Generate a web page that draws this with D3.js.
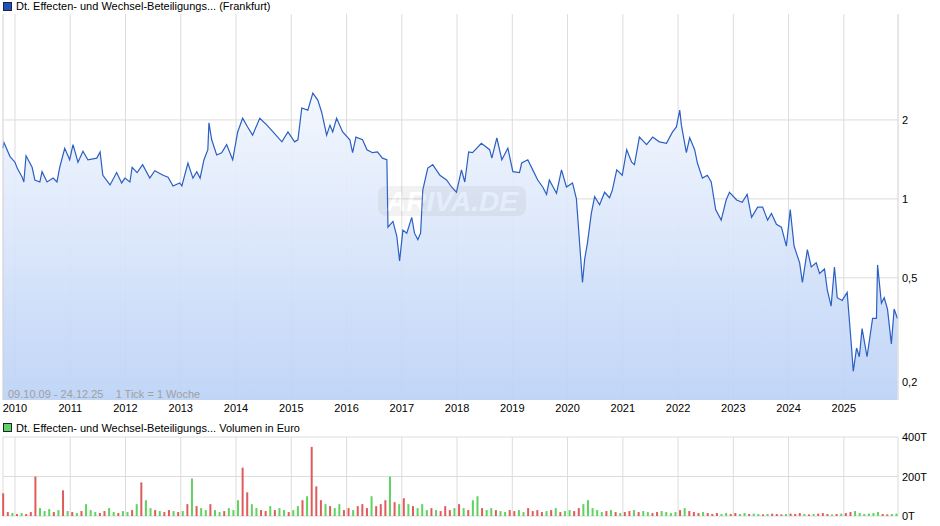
<!DOCTYPE html>
<html>
<head>
<meta charset="utf-8">
<script src="https://cdn.jsdelivr.net/npm/d3@7"></script>
<style>
  body { margin: 0; background: #fff; }
  svg { font-family: "Liberation Sans", Arial, sans-serif; }
</style>
</head>
<body>
<div class="main"></div>
<script>
const width = 940;
const height = 526;

// Kurs (Datum als Dezimaljahr, Preis in Euro)
const priceDates = [2009.78,2009.80,2009.91,2010.00,2010.04,2010.13,2010.16,2010.20,2010.31,2010.36,2010.45,2010.49,2010.58,2010.69,2010.76,2010.81,2010.90,2010.99,2011.05,2011.14,2011.23,2011.32,2011.48,2011.54,2011.59,2011.72,2011.84,2011.93,2011.99,2012.08,2012.12,2012.21,2012.31,2012.44,2012.53,2012.68,2012.77,2012.86,2012.98,2013.02,2013.13,2013.22,2013.29,2013.35,2013.42,2013.49,2013.51,2013.56,2013.65,2013.74,2013.83,2013.94,2014.03,2014.12,2014.21,2014.30,2014.43,2014.56,2014.67,2014.83,2014.94,2015.06,2015.12,2015.19,2015.30,2015.39,2015.48,2015.55,2015.64,2015.70,2015.75,2015.82,2015.93,2016.06,2016.11,2016.17,2016.29,2016.37,2016.47,2016.56,2016.65,2016.73,2016.75,2016.84,2016.91,2016.96,2017.02,2017.09,2017.18,2017.23,2017.29,2017.34,2017.38,2017.47,2017.56,2017.69,2017.81,2017.90,2017.99,2018.08,2018.14,2018.21,2018.28,2018.44,2018.59,2018.63,2018.72,2018.81,2018.92,2019.01,2019.13,2019.17,2019.28,2019.37,2019.46,2019.55,2019.62,2019.67,2019.80,2019.89,2019.98,2020.09,2020.16,2020.22,2020.27,2020.31,2020.36,2020.43,2020.49,2020.58,2020.67,2020.76,2020.81,2020.89,2020.99,2021.07,2021.16,2021.21,2021.30,2021.43,2021.54,2021.66,2021.79,2021.90,2021.97,2022.03,2022.06,2022.15,2022.21,2022.30,2022.35,2022.44,2022.53,2022.60,2022.68,2022.78,2022.87,2022.93,2023.06,2023.16,2023.25,2023.33,2023.44,2023.53,2023.62,2023.69,2023.78,2023.87,2023.96,2024.03,2024.10,2024.20,2024.25,2024.34,2024.41,2024.50,2024.56,2024.65,2024.70,2024.77,2024.83,2024.88,2024.97,2025.06,2025.14,2025.17,2025.23,2025.28,2025.33,2025.42,2025.52,2025.59,2025.61,2025.68,2025.73,2025.79,2025.86,2025.91,2025.97];
const prices = [1.56,1.64,1.45,1.38,1.31,1.21,1.16,1.46,1.32,1.18,1.16,1.27,1.16,1.20,1.16,1.32,1.56,1.41,1.61,1.38,1.52,1.41,1.43,1.51,1.23,1.13,1.26,1.15,1.20,1.16,1.32,1.26,1.35,1.20,1.28,1.23,1.21,1.12,1.15,1.12,1.37,1.20,1.27,1.20,1.41,1.54,1.95,1.68,1.47,1.50,1.61,1.41,1.80,2.03,1.88,1.75,2.03,1.91,1.80,1.65,1.80,1.65,1.68,2.22,2.18,2.53,2.38,2.14,1.75,1.91,1.80,2.03,1.80,1.68,1.50,1.72,1.68,1.54,1.50,1.51,1.43,1.41,0.78,0.82,0.72,0.58,0.76,0.74,0.85,0.74,0.70,0.74,1.08,1.31,1.35,1.23,1.18,1.11,1.06,1.29,1.16,1.51,1.50,1.63,1.54,1.43,1.71,1.41,1.56,1.27,1.26,1.37,1.41,1.29,1.18,1.11,1.04,1.18,1.05,1.29,1.11,1.15,1.00,0.67,0.48,0.59,0.68,0.88,1.02,0.95,1.06,1.01,1.08,1.29,1.23,1.54,1.38,1.35,1.72,1.61,1.72,1.65,1.63,1.80,1.88,2.18,1.91,1.50,1.71,1.54,1.37,1.20,1.23,1.16,0.91,0.83,0.99,1.06,0.99,0.97,1.04,0.85,0.93,0.93,0.83,0.88,0.80,0.78,0.66,0.91,0.66,0.57,0.48,0.64,0.55,0.57,0.52,0.54,0.45,0.39,0.55,0.42,0.41,0.44,0.27,0.22,0.27,0.25,0.32,0.25,0.35,0.35,0.56,0.40,0.42,0.38,0.28,0.38,0.35];

// Volumen je Monat ab Okt. 2009 (Tsd. Euro)
const volStart = 2009.75;
const volumes = [115,20,15,
  10,15,10,20,200,40,25,35,20,30,130,25,
  20,15,25,60,30,20,15,25,40,20,15,25,
  20,30,60,170,80,40,30,25,20,30,25,20,
  25,60,190,50,40,30,60,30,20,25,40,30,
  80,245,120,60,40,30,25,50,30,40,30,20,
  30,50,80,100,350,150,80,60,50,40,60,30,
  40,30,50,60,40,100,50,60,80,200,70,60,
  90,60,50,40,60,30,40,30,25,50,30,40,
  60,40,30,80,100,40,30,40,30,25,20,30,
  25,30,20,40,25,30,20,25,30,40,20,25,
  30,25,40,60,80,40,30,20,25,30,20,15,
  20,25,30,20,25,20,15,20,25,20,15,20,
  30,40,25,20,15,20,15,10,15,10,15,10,
  15,10,15,10,12,10,8,10,12,10,8,10,
  12,10,15,10,8,10,12,15,10,8,10,12,
  15,20,25,15,10,12,15,20,10,8,10,12];

const years = d3.range(2010, 2026);
const priceTicks = [0.2, 0.5, 1, 2];
const volTicks = [0, 200, 400];

const data = priceDates.map((d, i) => ({date: d, price: prices[i]}));
const vols = volumes.map((v, i) => ({date: volStart + i / 12, vol: v}));

const x = d3.scaleLinear().domain([2009.783, 2025.98]).range([3, 898]);
const y = d3.scaleLog().domain([0.171, 5.07]).range([400, 14]);
const yv = d3.scaleLinear().domain([0, 400]).range([516, 437]);

const svg = d3.select('.main').append('svg')
  .attr('width', width).attr('height', height);

const grad = svg.append('defs').append('linearGradient')
  .attr('id', 'fill').attr('x1', 0).attr('x2', 0).attr('y1', 0).attr('y2', 1);
grad.append('stop').attr('offset', 0).attr('stop-color', '#f3f7fe');
grad.append('stop').attr('offset', 1).attr('stop-color', '#bcd2f6');

// Gitter oben
const grid = svg.append('g').attr('stroke', '#dcdcdc');
grid.selectAll('.v').data(years).enter().append('line')
  .attr('x1', d => x(d)).attr('x2', d => x(d)).attr('y1', 14).attr('y2', 400);
grid.selectAll('.h').data(priceTicks).enter().append('line')
  .attr('x1', 3).attr('x2', 898).attr('y1', d => y(d)).attr('y2', d => y(d));

// Fläche + Linie
const bisect = d3.bisector(d => d.date).left;
svg.append('path').datum(data)
  .attr('fill', 'url(#fill)').attr('opacity', 0.93)
  .attr('d', d3.area().x(d => x(d.date)).y0(400).y1(d => y(d.price)));

svg.append('path').datum(data)
  .attr('fill', 'none').attr('stroke', '#2a5fc3').attr('stroke-width', 1.2)
  .attr('d', d3.line().x(d => x(d.date)).y(d => y(d.price)));

// Wasserzeichen
const wm = svg.append('g').attr('opacity', 0.1);
wm.append('rect').attr('x', 378).attr('y', 186).attr('width', 148).attr('height', 30)
  .attr('rx', 8).attr('fill', '#888');
wm.append('text').attr('x', 452).attr('y', 211).attr('text-anchor', 'middle')
  .attr('font-size', 28).attr('font-weight', 'bold').attr('font-style', 'italic')
  .attr('fill', '#fff').text('ARIVA.DE');

// Rahmen
svg.append('g').attr('stroke', '#d0d0d0').selectAll('line')
  .data([3, 898]).enter().append('line')
  .attr('x1', d => d).attr('x2', d => d).attr('y1', 14).attr('y2', 400);

svg.append('text').attr('x', 8).attr('y', 398).attr('font-size', 11)
  .attr('fill', '#a0a0a0').style('white-space', 'pre')
  .text('09.10.09 - 24.12.25    1 Tick = 1 Woche');

// Achsen oben
svg.append('g').attr('font-size', 11).selectAll('text').data(years).enter()
  .append('text').attr('x', d => x(d)).attr('y', 412).attr('text-anchor', 'middle')
  .attr('fill', '#000').text(d => d);
svg.append('g').attr('font-size', 11).selectAll('text').data(priceTicks).enter()
  .append('text').attr('x', 902).attr('y', d => y(d) + 4)
  .text(d => String(d).replace('.', ','));

// Legenden
svg.append('rect').attr('x', 3.5).attr('y', 2.5).attr('width', 8).attr('height', 8)
  .attr('fill', '#1e50c0').attr('stroke', '#223');
svg.append('text').attr('x', 16).attr('y', 10).attr('font-size', 11)
  .text('Dt. Effecten- und Wechsel-Beteiligungs... (Frankfurt)');
svg.append('rect').attr('x', 3.5).attr('y', 423.5).attr('width', 8).attr('height', 8)
  .attr('fill', '#5fd35f').attr('stroke', '#223');
svg.append('text').attr('x', 16).attr('y', 432).attr('font-size', 11)
  .text('Dt. Effecten- und Wechsel-Beteiligungs... Volumen in Euro');

// Volumen-Panel
const vg = svg.append('g').attr('stroke', '#dcdcdc');
vg.selectAll('.v').data(years).enter().append('line')
  .attr('x1', d => x(d)).attr('x2', d => x(d)).attr('y1', 437).attr('y2', 516);
vg.selectAll('.h').data(volTicks).enter().append('line')
  .attr('x1', 3).attr('x2', 898).attr('y1', d => yv(d)).attr('y2', d => yv(d));
vg.selectAll('.b').data([3, 898]).enter().append('line')
  .attr('x1', d => d).attr('x2', d => d).attr('y1', 437).attr('y2', 516);

function priceAt(t) {
  const i = Math.min(Math.max(bisect(data, t), 0), data.length - 1);
  return data[i].price;
}
svg.append('g').selectAll('rect').data(vols).enter().append('rect')
  .attr('x', d => x(d.date) + 1)
  .attr('width', 2)
  .attr('y', d => yv(d.vol))
  .attr('height', d => yv(0) - yv(d.vol))
  .attr('fill', d => priceAt(d.date + 1 / 12) >= priceAt(d.date) ? '#5fd35f' : '#e05c5c');

svg.append('g').attr('font-size', 11).selectAll('text').data(volTicks).enter()
  .append('text').attr('x', 902).attr('y', d => yv(d) + 4).text(d => d + 'T');
</script>
</body>
</html>
